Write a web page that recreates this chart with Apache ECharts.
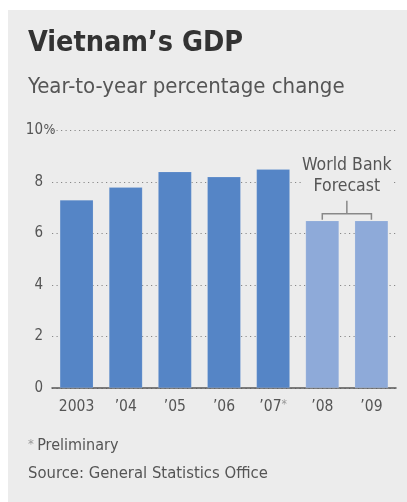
<!DOCTYPE html>
<html><head><meta charset="utf-8">
<script src="https://cdn.jsdelivr.net/npm/echarts@6/dist/echarts.min.js"></script>
<style>html,body{margin:0;padding:0;background:#fff}#c{width:407px;height:502px}</style>
</head><body><div id="c"></div>
<script>
const categories = ['2003', '\u201904', '\u201905', '\u201906', '\u201907*', '\u201908', '\u201909'];
const gdpValues = [7.3, 7.8, 8.4, 8.2, 8.5, 6.5, 6.5];
const isForecast = [false, false, false, false, false, true, true];
const yTicks = [0, 2, 4, 6, 8, 10];
const titleText = 'Vietnam\u2019s GDP';
const subtitleText = 'Year-to-year percentage change';
const noteText = 'Preliminary';
const sourceText = 'Source: General Statistics Office';
const forecastLabel = 'World Bank\nForecast';

const FONT = '"DejaVu Sans Condensed","Liberation Sans Narrow","Noto Sans",sans-serif';
const DARK = '#5585c6', LIGHT = '#8eaad9', TXT = '#555';

const chart = echarts.init(document.getElementById('c'));
chart.setOption({
  animation: false,
  backgroundColor: '#fff',
  textStyle: { fontFamily: FONT },
  grid: { left: 52, right: 11, top: 130.5, bottom: 114 },
  xAxis: {
    type: 'category', data: categories,
    axisTick: { show: false },
    axisLine: { lineStyle: { color: '#555', width: 1.5 } },
    axisLabel: {
      interval: 0, margin: 11, fontSize: 15.5, color: TXT, fontFamily: FONT,
      formatter: v => v.endsWith('*') ? v.slice(0, -1) + '{s|*}' : v,
      rich: { s: { fontSize: 12, color: '#999', fontFamily: FONT, verticalAlign: 'top', padding: [0,0,4,0] } }
    }
  },
  yAxis: {
    type: 'value', min: yTicks[0], max: yTicks[yTicks.length - 1], interval: 2,
    axisLine: { show: false }, axisTick: { show: false },
    splitLine: { lineStyle: { color: '#888', type: [1.2, 3.3], width: 1 } },
    axisLabel: {
      margin: -4, fontSize: 15, color: TXT, fontFamily: FONT, align: 'right',
      formatter: v => v === 10 ? '{n|10}{h|%}' : '{n|' + v + '}{h|}',
      rich: {
        n: { fontSize: 15, color: TXT, fontFamily: FONT, backgroundColor: '#ececec' },
        h: { fontSize: 14, color: TXT, fontFamily: FONT, width: 13, align: 'left', backgroundColor: 'transparent' }
      }
    }
  },
  series: [{
    type: 'bar', barCategoryGap: '32%',
    data: gdpValues.map((v, i) => ({ value: v, itemStyle: { color: isForecast[i] ? LIGHT : DARK } })),
    itemStyle: { borderColor: 'rgba(255,255,255,0.25)', borderWidth: 0.5 },
    z: 3
  }]
});

// Forecast bracket from data coordinates
const i8 = isForecast.indexOf(true), i9 = isForecast.lastIndexOf(true);
const p8 = chart.convertToPixel({ seriesIndex: 0 }, [i8, gdpValues[i8]]);
const p9 = chart.convertToPixel({ seriesIndex: 0 }, [i9, gdpValues[i9]]);
const topY = Math.min(p8[1], p9[1]);
const cx = (p8[0] + p9[0]) / 2;
const by = topY - 7;
chart.setOption({ graphic: [
  { id: 'bg', type: 'rect', z: -10, silent: true, shape: { x: 8, y: 10, width: 399, height: 492 }, style: { fill: '#ececec' } },
  { id: 'title', type: 'text', left: 28, top: 29, style: { text: titleText, font: 'bold 28.5px ' + FONT, fill: '#333' } },
  { id: 'sub', type: 'text', left: 28, top: 76, style: { text: subtitleText, font: '22px ' + FONT, fill: '#555' } },
  { id: 'note', type: 'text', left: 28, top: 438, style: { rich: { a: { fontSize: 13, fill: '#999', fontFamily: FONT, verticalAlign: 'top' }, b: { fontSize: 16, fill: TXT, fontFamily: FONT } }, text: '{a|*} {b|' + noteText + '}' } },
  { id: 'src', type: 'text', left: 28, top: 465, style: { text: sourceText, font: '16.5px ' + FONT, fill: TXT } },
  { id: 'br', type: 'polyline', z: 5, shape: { points: [[p8[0], topY - 1], [p8[0], by], [p9[0], by], [p9[0], topY - 1]] }, style: { stroke: '#888', lineWidth: 1.5, fill: null } },
  { id: 'stem', type: 'line', z: 5, shape: { x1: cx, y1: by, x2: cx, y2: by - 13 }, style: { stroke: '#888', lineWidth: 1.5 } },
  { id: 'fc', type: 'text', z: 5, x: cx, y: by - 17, style: { text: forecastLabel, font: '17.5px ' + FONT, fill: TXT, align: 'center', verticalAlign: 'bottom', lineHeight: 21, backgroundColor: '#ececec' } }
]});
</script></body></html>
